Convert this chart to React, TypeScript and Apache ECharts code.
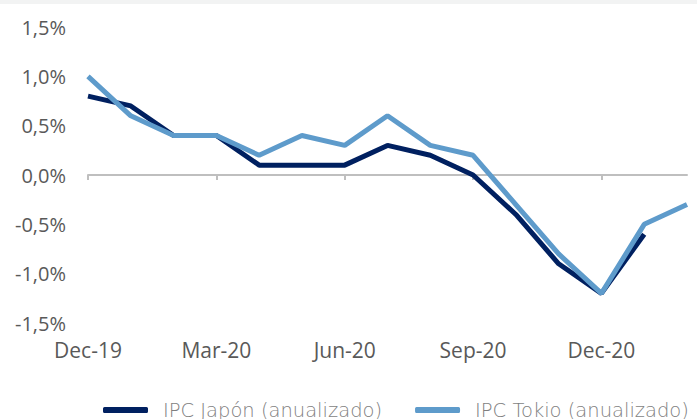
import React, { useEffect, useRef } from "react";
import * as echarts from "echarts";

const categories = [
  "Dec-19", "Jan-20", "Feb-20", "Mar-20", "Apr-20", "May-20", "Jun-20", "Jul-20",
  "Aug-20", "Sep-20", "Oct-20", "Nov-20", "Dec-20", "Jan-21", "Feb-21",
];
const japanValues = [0.8, 0.7, 0.4, 0.4, 0.1, 0.1, 0.1, 0.3, 0.2, 0.0, -0.4, -0.9, -1.2, -0.6, null];
const tokioValues = [1.0, 0.6, 0.4, 0.4, 0.2, 0.4, 0.3, 0.6, 0.3, 0.2, -0.3, -0.8, -1.2, -0.5, -0.3];
const seriesNames = ["IPC Japón (anualizado)", "IPC Tokio (anualizado)"];

const FONT = "'Open Sans', 'Liberation Sans', Arial, sans-serif";
const LEGEND_FONT = "'DejaVu Sans', 'Open Sans', sans-serif";

export default function App() {
  const ref = useRef<HTMLDivElement>(null);
  useEffect(() => {
    document.body.style.margin = "0";
    if (!ref.current) return;
    const chart = echarts.init(ref.current, undefined, { renderer: "svg" });
    chart.setOption({
      animation: false,
      backgroundColor: "#ffffff",
      graphic: [
        { type: "rect", left: 0, top: 0, shape: { width: 697, height: 4 }, style: { fill: "#f2f3f3" }, silent: true },
      ],
      grid: { left: 88, right: 10, top: 27, bottom: 96, containLabel: false, outerBoundsMode: "none" },
      legend: {
        left: 103,
        top: 400,
        padding: 0,
        icon: "roundRect",
        itemWidth: 45,
        itemHeight: 6,
        itemGap: 33,
        textStyle: { fontFamily: LEGEND_FONT, fontSize: 19.5, fontWeight: 200, color: "#7f7f7f", padding: [0, 0, 0, 10] },
        data: seriesNames,
      },
      xAxis: {
        type: "category",
        data: categories,
        boundaryGap: false,
        axisLine: { onZero: true, lineStyle: { color: "#bfbfbf", width: 2 } },
        axisTick: { show: true, interval: 2, length: 5, lineStyle: { color: "#bfbfbf", width: 2 } },
        axisLabel: {
          interval: 2,
          margin: 16,
          fontFamily: FONT,
          fontSize: 21,
          color: "#595959",
        },
        splitLine: { show: false },
      },
      yAxis: {
        type: "value",
        min: -1.5,
        max: 1.5,
        interval: 0.5,
        axisLine: { show: false },
        axisTick: { show: false },
        splitLine: { show: false },
        axisLabel: {
          margin: 22,
          fontFamily: FONT,
          fontSize: 20,
          color: "#595959",
          formatter: (v: number) => v.toFixed(1).replace(".", ",") + "%",
        },
      },
      series: [
        {
          name: seriesNames[0],
          type: "line",
          data: japanValues,
          symbol: "none",
          lineStyle: { width: 5, color: "#002060" },
          itemStyle: { color: "#002060" },
        },
        {
          name: seriesNames[1],
          type: "line",
          data: tokioValues,
          symbol: "none",
          lineStyle: { width: 5, color: "#5e9bcb" },
          itemStyle: { color: "#5e9bcb" },
        },
      ],
    });
    return () => chart.dispose();
  }, []);
  return <div ref={ref} style={{ width: 697, height: 419 }} />;
}
